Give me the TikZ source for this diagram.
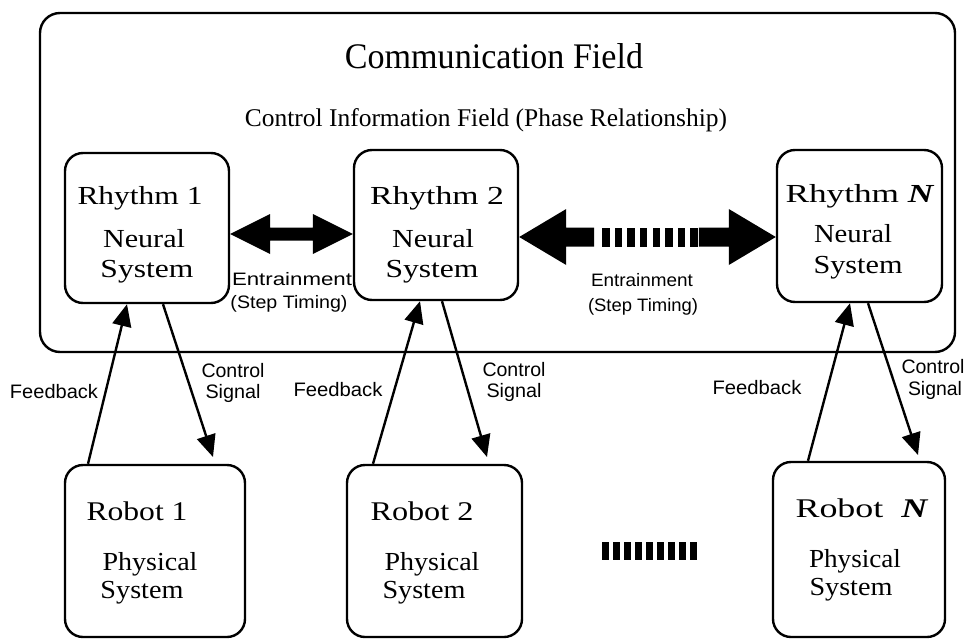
\documentclass[tikz,border=0pt]{standalone}
\usepackage{fontspec}
\setmainfont{Liberation Serif}
\newfontfamily\labfont{Liberation Sans}
\usepackage{graphicx}
\usetikzlibrary{arrows.meta,calc}
% set a text to a given width, keeping its natural height
\newcommand\fitw[2]{\resizebox{#1}{\height}{#2}}
% fat double-headed arrow between two tips
% #1 left tip, #2 right tip, #3 head length, #4 head half-height, #5 shaft half-height
\newcommand\fatarrow[5]{%
  \fill (#1) -- ($(#1)+(#3,-#4)$) -- ($(#1)+(#3,-#5)$) -- ($(#2)+(-#3,-#5)$)
    -- ($(#2)+(-#3,-#4)$) -- (#2) -- ($(#2)+(-#3,#4)$) -- ($(#2)+(-#3,#5)$)
    -- ($(#1)+(#3,#5)$) -- ($(#1)+(#3,#4)$) -- cycle;}
\begin{document}
\begin{tikzpicture}[x=1pt,y=-1pt,
  frame/.style={draw, line width=2.4pt, rounded corners=20pt, inner sep=0pt},
  box/.style={draw, line width=2.4pt, rounded corners=18pt, inner sep=0pt},
  serif/.style={anchor=base, inner sep=0pt, font=\fontsize{26}{30}\selectfont},
  head/.style={anchor=base, inner sep=0pt, font=\fontsize{27}{32}\selectfont},
  lab/.style={anchor=base, inner sep=0pt, font=\labfont\fontsize{19.5}{23}\selectfont},
  ent/.style={anchor=base, inner sep=0pt, font=\labfont\fontsize{18}{22}\selectfont},
  link/.style={line width=2.4pt, -{Triangle[length=22pt,width=19pt]}},
]
\useasboundingbox (0,0) rectangle (966,642);

% communication field
\node[frame, minimum width=915pt, minimum height=339pt] (field) at (497.5,182.5) {};
\node[anchor=base, inner sep=0pt, font=\fontsize{36}{40}\selectfont] (ftitle) at (494,68)
  {\fitw{298pt}{Communication Field}};
\node[anchor=base, inner sep=0pt, font=\fontsize{25.5}{30}\selectfont] (fsub) at (486,126)
  {\fitw{482pt}{Control Information Field (Phase Relationship)}};

% neural systems
\node[box, minimum width=164pt, minimum height=150pt] (r1) at (147,228) {};
\node[box, minimum width=164pt, minimum height=150pt] (r2) at (436,225) {};
\node[box, minimum width=165pt, minimum height=152pt] (rN) at (859.5,226) {};

\node[serif] (r1a) at (140,204) {\fitw{125pt}{Rhythm 1}};
\node[serif] (r1b) at (144,247) {\fitw{82pt}{Neural}};
\node[serif] (r1c) at (147,277) {\fitw{93pt}{System}};

\node[serif] (r2a) at (437,204) {\fitw{134pt}{Rhythm 2}};
\node[serif] (r2b) at (433,247) {\fitw{82pt}{Neural}};
\node[serif] (r2c) at (432,277) {\fitw{93pt}{System}};

\node[serif] (rNa) at (860,202) {\fitw{149pt}{Rhythm\ \textbf{\textit{N}}}};
\node[serif] (rNb) at (853,242) {\fitw{78pt}{Neural}};
\node[serif] (rNc) at (858,273) {\fitw{89pt}{System}};

% physical systems
\node[box, minimum width=180pt, minimum height=172pt] (rb1) at (155,551) {};
\node[box, minimum width=175pt, minimum height=172pt] (rb2) at (434.5,551) {};
\node[box, minimum width=172pt, minimum height=175pt] (rbN) at (859,549.5) {};

\node[head] (rb1a) at (137,520) {\fitw{101pt}{Robot 1}};
\node[serif] (rb1b) at (150,570) {\fitw{95pt}{Physical}};
\node[serif] (rb1c) at (142,598) {\fitw{83pt}{System}};

\node[head] (rb2a) at (422,520) {\fitw{103pt}{Robot 2}};
\node[serif] (rb2b) at (432,570) {\fitw{95pt}{Physical}};
\node[serif] (rb2c) at (424,598) {\fitw{83pt}{System}};

\node[head] (rbNa) at (862,517) {\fitw{133pt}{Robot\ \ \textbf{\textit{N}}}};
\node[serif] (rbNb) at (855,567) {\fitw{92pt}{Physical}};
\node[serif] (rbNc) at (851,595) {\fitw{83pt}{System}};

% entrainment between neural systems
\coordinate (e1l) at (r1.east |- 0,234);
\coordinate (e1r) at (r2.west |- 0,234);
\fatarrow{e1l}{e1r}{40}{20}{6.5}

\coordinate (e2l) at (r2.east |- 0,237);
\coordinate (e2r) at (rN.west |- 0,237);
\fill (e2l) -- ($(e2l)+(47,-28)$) -- ($(e2l)+(47,-9.5)$) -- ($(e2l)+(75,-9.5)$)
  -- ($(e2l)+(75,9.5)$) -- ($(e2l)+(47,9.5)$) -- ($(e2l)+(47,28)$) -- cycle;
\fill (e2r) -- ($(e2r)+(-47,-28)$) -- ($(e2r)+(-47,-9.5)$) -- ($(e2r)+(-77,-9.5)$)
  -- ($(e2r)+(-77,9.5)$) -- ($(e2r)+(-47,9.5)$) -- ($(e2r)+(-47,28)$) -- cycle;
\foreach \i in {0,...,7}
  \fill ($(e2l)+(83+\i*12.6,-9.5)$) rectangle ++(7.4,19);

\node[ent] (e1a) at (292,285) {\fitw{120pt}{Entrainment}};
\node[ent] (e1b) at (289,308) {\fitw{117pt}{(Step Timing)}};
\node[ent] (e2a) at (642,286) {\fitw{102pt}{Entrainment}};
\node[ent] (e2b) at (643,311) {\fitw{110pt}{(Step Timing)}};

% further robots
\foreach \i in {0,...,8}
  \fill (602+\i*11,542) rectangle ++(7,18);

% feedback and control signals
\coordinate (c1end) at (213,457);
\coordinate (c2end) at (487,457);
\coordinate (cNend) at (918,455);
\draw[link] (rb1.north -| 88,0) -- (r1.south -| 127,0);
\draw[link] (r1.south -| 163,0) -- (c1end);
\draw[link] (rb2.north -| 373,0) -- (r2.south -| 420,0);
\draw[link] (r2.south -| 442,0) -- (c2end);
\draw[link] (rbN.north -| 808,0) -- (rN.south -| 850,0);
\draw[link] (rN.south -| 868,0) -- (cNend);

\node[lab] (f1) at (54,398) {\fitw{88pt}{Feedback}};
\node[lab] (c1a) at (233,377) {\fitw{63pt}{Control}};
\node[lab] (c1b) at (233,398) {\fitw{55pt}{Signal}};
\node[lab] (f2) at (338,396) {\fitw{89pt}{Feedback}};
\node[lab] (c2a) at (514,376) {\fitw{63pt}{Control}};
\node[lab] (c2b) at (514,397) {\fitw{55pt}{Signal}};
\node[lab] (f3) at (757,394) {\fitw{89pt}{Feedback}};
\node[lab] (c3a) at (933,373) {\fitw{63pt}{Control}};
\node[lab] (c3b) at (935,395) {\fitw{54pt}{Signal}};
\end{tikzpicture}
\end{document}
